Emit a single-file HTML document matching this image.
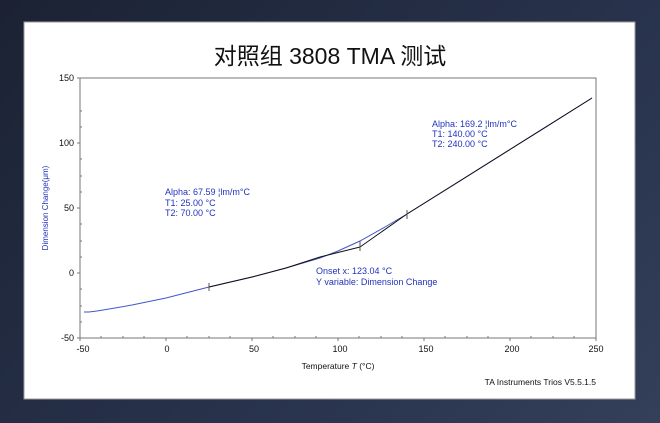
<!DOCTYPE html>
<html><head><style>
body{margin:0;width:660px;height:423px;overflow:hidden;background:linear-gradient(135deg,#1b2233,#2a3550 70%,#34405a);}
svg{position:absolute;left:0;top:0}
text{font-family:"Liberation Sans","Noto Sans CJK SC",sans-serif}
</style></head><body>
<svg width="660" height="423">
<rect x="24" y="22" width="611" height="377" fill="#fff" stroke="#999"/>
<text x="330" y="64" font-size="23" text-anchor="middle" fill="#111">对照组 3808 TMA 测试</text>
<rect x="80" y="78" width="516" height="260" fill="none" stroke="#777"/>
<g font-size="9" fill="#111" text-anchor="end">
<text x="74" y="81">150</text><text x="74" y="146">100</text><text x="74" y="211">50</text><text x="74" y="276">0</text><text x="74" y="341">-50</text>
</g>
<g font-size="9" fill="#111" text-anchor="middle">
<text x="83" y="352">-50</text><text x="167" y="352">0</text><text x="254" y="352">50</text><text x="340" y="352">100</text><text x="426" y="352">150</text><text x="512" y="352">200</text><text x="596" y="352">250</text>
</g>
<g stroke="#777">
<path d="M80 78h-3M80 143h-3M80 208h-3M80 273h-3M80 338h-3M80 111h2M80 127h2M80 159h2M80 176h2M80 192h2M80 224h2M80 241h2M80 257h2M80 289h2M80 306h2M80 322h2"/>
<path d="M80 338v3M166 338v3M252 338v3M338 338v3M424 338v3M510 338v3M596 338v3"/>
<path d="M101 338v-2M123 338v-2M144 338v-2M187 338v-2M209 338v-2M230 338v-2M273 338v-2M295 338v-2M316 338v-2M359 338v-2M381 338v-2M402 338v-2M445 338v-2M467 338v-2M488 338v-2M531 338v-2M553 338v-2M574 338v-2"/>
</g>
<polyline fill="none" stroke="#4455cc" stroke-width="1" points="84,312 89,312 97,311 115,308 132,305 166,298 209,287 252,277 286,268 320,258 338,251 360,241 385,227 407,214 460,181 510,149.5 550,124.5 592,98"/>
<polyline fill="none" stroke="#111" stroke-width="1" points="209,287 252,277 286,268 320,257 360,247"/>
<polyline fill="none" stroke="#111" stroke-width="1" points="360,247 407,214 592,98"/>
<g stroke="#555"><path d="M209 283v8M360 241v10M407 210v9"/></g>
<g font-size="9" fill="#2233bb">
<text x="165" y="195">Alpha: 67.59 ¦lm/m°C</text><text x="165" y="206">T1: 25.00 °C</text><text x="165" y="216">T2: 70.00 °C</text>
<text x="432" y="127">Alpha: 169.2 ¦lm/m°C</text><text x="432" y="137">T1: 140.00 °C</text><text x="432" y="147">T2: 240.00 °C</text>
<text x="316" y="274">Onset x: 123.04 °C</text><text x="316" y="285">Y variable: Dimension Change</text>
<text transform="translate(48,208) rotate(-90)" font-size="8" text-anchor="middle">Dimension Change(μm)</text>
</g>
<text x="338" y="369" font-size="8.5" text-anchor="middle" fill="#111">Temperature <tspan font-style="italic">T</tspan> (°C)</text>
<text x="596" y="385" font-size="8.5" text-anchor="end" fill="#111">TA Instruments Trios V5.5.1.5</text>
</svg>
</body></html>
